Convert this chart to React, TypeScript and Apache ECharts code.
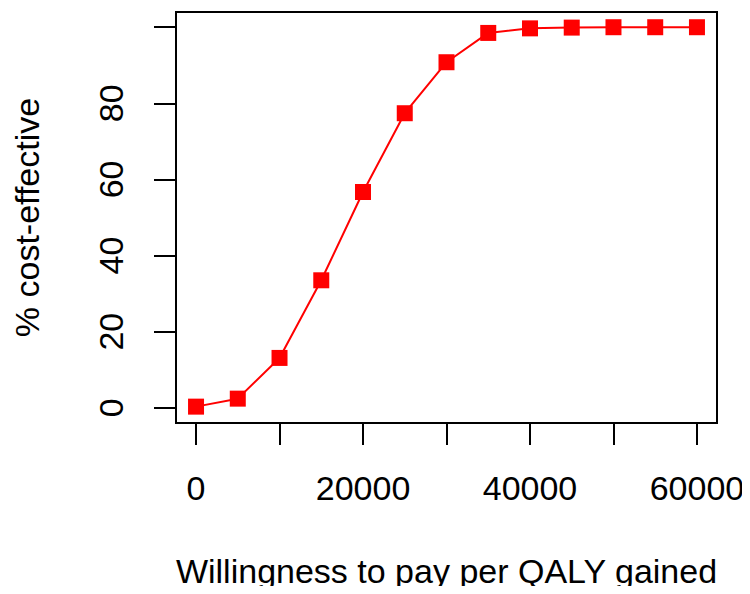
import React, { useEffect, useRef } from "react";
import * as echarts from "echarts";

// Willingness-to-pay thresholds (per QALY gained)
const wtp = [0, 5000, 10000, 15000, 20000, 25000, 30000, 35000, 40000, 45000, 50000, 55000, 60000];
// Percentage of simulations that are cost-effective at each threshold
const pctCostEffective = [0.3, 2.4, 13.1, 33.5, 56.7, 77.4, 90.8, 98.5, 99.7, 99.9, 100, 100, 100];

const xTicks = [0, 10000, 20000, 30000, 40000, 50000, 60000];
const xTickLabels = [0, 20000, 40000, 60000];
const yTicks = [0, 20, 40, 60, 80, 100];
const yTickLabels = [0, 20, 40, 60, 80];

const FONT = "Liberation Sans, Arial, sans-serif";
const FONT_SIZE = 34;

export default function App() {
  const ref = useRef<HTMLDivElement>(null);

  useEffect(() => {
    if (!ref.current) return;
    const chart = echarts.init(ref.current, undefined, { renderer: "svg" });
    chart.setOption({
      animation: false,
      backgroundColor: "#ffffff",
      grid: {
        left: 176,
        right: 33,
        top: 12,
        bottom: 171,
        show: true,
        borderColor: "#000000",
        borderWidth: 2,
        backgroundColor: "transparent",
      },
      xAxis: {
        type: "value",
        min: -2400,
        max: 62400,
        name: "Willingness to pay per QALY gained",
        nameLocation: "middle",
        nameGap: 131,
        nameTextStyle: { fontFamily: FONT, fontSize: FONT_SIZE, color: "#000000" },
        axisLine: { show: false, onZero: false },
        splitLine: { show: false },
        axisTick: {
          show: true,
          inside: false,
          length: 22,
          customValues: xTicks,
          lineStyle: { color: "#000000", width: 2 },
        },
        axisLabel: {
          customValues: xTickLabels,
          formatter: (v: number) => String(v),
          margin: 48,
          fontFamily: FONT,
          fontSize: FONT_SIZE,
          color: "#000000",
        },
      },
      yAxis: {
        type: "value",
        min: -4,
        max: 104,
        name: "% cost-effective",
        nameLocation: "middle",
        nameGap: 132,
        nameRotate: 90,
        nameTextStyle: { fontFamily: FONT, fontSize: FONT_SIZE, color: "#000000" },
        axisLine: { show: false, onZero: false },
        splitLine: { show: false },
        axisTick: {
          show: true,
          inside: false,
          length: 22,
          customValues: yTicks,
          lineStyle: { color: "#000000", width: 2 },
        },
        axisLabel: {
          customValues: yTickLabels,
          formatter: (v: number) => String(v),
          rotate: 90,
          margin: 48,
          fontFamily: FONT,
          fontSize: FONT_SIZE,
          color: "#000000",
        },
      },
      series: [
        {
          type: "line",
          data: wtp.map((x, i) => [x, pctCostEffective[i]]),
          symbol: "rect",
          symbolSize: 16,
          showAllSymbol: true,
          lineStyle: { color: "#ff0000", width: 2 },
          itemStyle: { color: "#ff0000" },
        },
      ],
    });
    return () => chart.dispose();
  }, []);

  return <div ref={ref} style={{ width: 750, height: 594, margin: -8 }} />;
}
